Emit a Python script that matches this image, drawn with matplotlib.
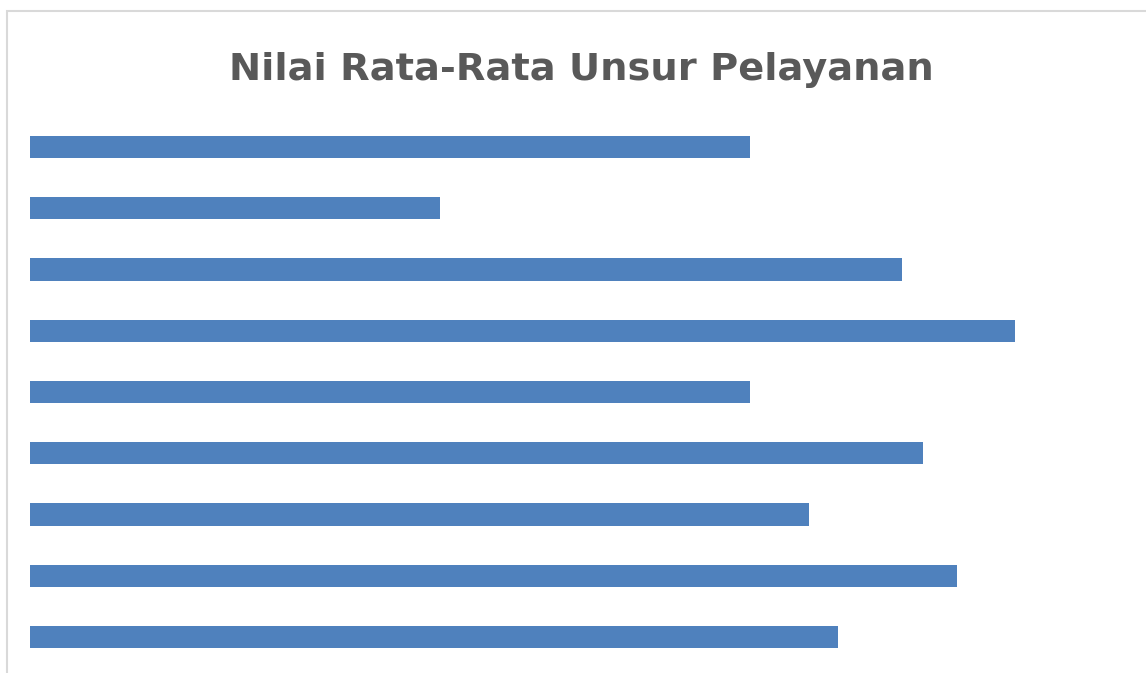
import matplotlib.pyplot as plt
from matplotlib.patches import Rectangle

# Unsur pelayanan (labels hidden in the reference), top to bottom
unsur = ["U1", "U2", "U3", "U4", "U5", "U6", "U7", "U8", "U9"]
nilai = [720, 410, 872, 985, 720, 893, 779, 927, 808]

bar_color = "#4f81bd"
title_color = "#595959"

fig = plt.figure(figsize=(11.46, 6.73), dpi=100)

# light chart-area border, cropped at right and bottom
fig.patches.append(Rectangle((7 / 1146, -0.2), 1.2, (673 - 11) / 673 + 0.2,
                             transform=fig.transFigure, fill=False,
                             edgecolor="#d9d9d9", linewidth=1.5))

ax = fig.add_axes([30 / 1146, 0, 1000 / 1146, (673 - 116.4) / 673])
ax.barh(range(len(unsur)), nilai, height=0.36, color=bar_color)
ax.set_xlim(0, 1000)
ax.set_ylim(8.588, -0.5)
ax.axis("off")

fig.text(581 / 1146, 1 - 70 / 673, "Nilai Rata-Rata Unsur Pelayanan",
         ha="center", va="center", fontsize=27.6, fontweight="bold",
         family="DejaVu Sans", color=title_color)

fig.savefig("out.png", dpi=100)
